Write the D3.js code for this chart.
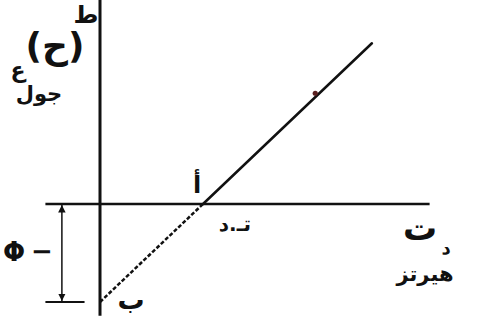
<!DOCTYPE html>
<html>
<head>
<meta charset="utf-8">
<script src="https://cdn.jsdelivr.net/npm/d3@7"></script>
<style>
  html, body { margin: 0; padding: 0; background: #fff; }
  svg text { font-family: "DejaVu Sans", sans-serif; font-weight: bold; fill: #111; }
</style>
</head>
<body>
<svg id="chart" width="489" height="327"></svg>
<script>
// Photoelectric relation: max kinetic energy vs. frequency
const frequency = [0, 1, 2.64];      // in units of the threshold frequency
const kineticEnergy = [-1, 0, 1.64]; // in units of the work function
const pointLabels = ["ب", "أ"];
const markedPoint = [2.09, 1.13];    // small point marked on the line

const svg = d3.select("#chart");
const x = d3.scaleLinear().domain([0, 1]).range([100, 203]);
const y = d3.scaleLinear().domain([-1, 0]).range([302, 204]);

const ink = "#111";

// axes
svg.append("line").attr("x1", x(0)).attr("x2", x(0))
  .attr("y1", y(3.03)).attr("y2", y(-1.14))
  .attr("stroke", ink).attr("stroke-width", 3);
svg.append("line").attr("x1", x(-0.53)).attr("x2", x(3.2))
  .attr("y1", y(0)).attr("y2", y(0))
  .attr("stroke", ink).attr("stroke-width", 2.5);

// lower reference tick at -phi
svg.append("line").attr("x1", x(-0.53)).attr("x2", x(-0.15))
  .attr("y1", y(-1)).attr("y2", y(-1))
  .attr("stroke", ink).attr("stroke-width", 2);

// -phi dimension arrow
const defs = svg.append("defs");
defs.append("marker").attr("id", "arr").attr("viewBox", "0 0 10 10")
  .attr("refX", 10).attr("refY", 5).attr("markerWidth", 5).attr("markerHeight", 6)
  .attr("orient", "auto-start-reverse")
  .append("path").attr("d", "M0,0 L10,5 L0,10 z").attr("fill", ink);
svg.append("line").attr("x1", x(-0.37)).attr("x2", x(-0.37))
  .attr("y1", y(0) + 1).attr("y2", y(-1) - 1)
  .attr("stroke", ink).attr("stroke-width", 1.5)
  .attr("marker-start", "url(#arr)").attr("marker-end", "url(#arr)");

// the straight line: dashed below the frequency axis, solid above
const pts = frequency.map((f, i) => [x(f), y(kineticEnergy[i])]);
svg.append("line").attr("x1", pts[0][0]).attr("y1", pts[0][1])
  .attr("x2", pts[1][0]).attr("y2", pts[1][1])
  .attr("stroke", ink).attr("stroke-width", 2.5).attr("stroke-dasharray", "4,2");
svg.append("line").attr("x1", pts[1][0]).attr("y1", pts[1][1])
  .attr("x2", pts[2][0]).attr("y2", pts[2][1])
  .attr("stroke", ink).attr("stroke-width", 2.5).attr("stroke-linecap", "round");
svg.append("circle").attr("cx", x(markedPoint[0])).attr("cy", y(markedPoint[1]))
  .attr("r", 2.6).attr("fill", "#5a2020");

// labels
const t = (tx, ty, s, size) => svg.append("text").attr("x", tx).attr("y", ty)
  .attr("font-size", size).attr("text-anchor", "middle").text(s);

t(55, 58, "(ح)", 36);
t(86, 23, "ط", 24);
t(18, 78, "ع", 22);
t(39, 101, "جول", 21);

t(14, 261, "Φ", 26);
t(42, 260, "−", 26);

t(131, 309, pointLabels[0], 27);
t(pts[1][0] - 6, pts[1][1] - 11, pointLabels[1], 24);
t(x(1.31), y(0) + 27, "تـ.د", 20);

t(420, 240, "ت", 34);
t(446, 254, "د", 18);
t(425, 281, "هيرتز", 21);
</script>
</body>
</html>
